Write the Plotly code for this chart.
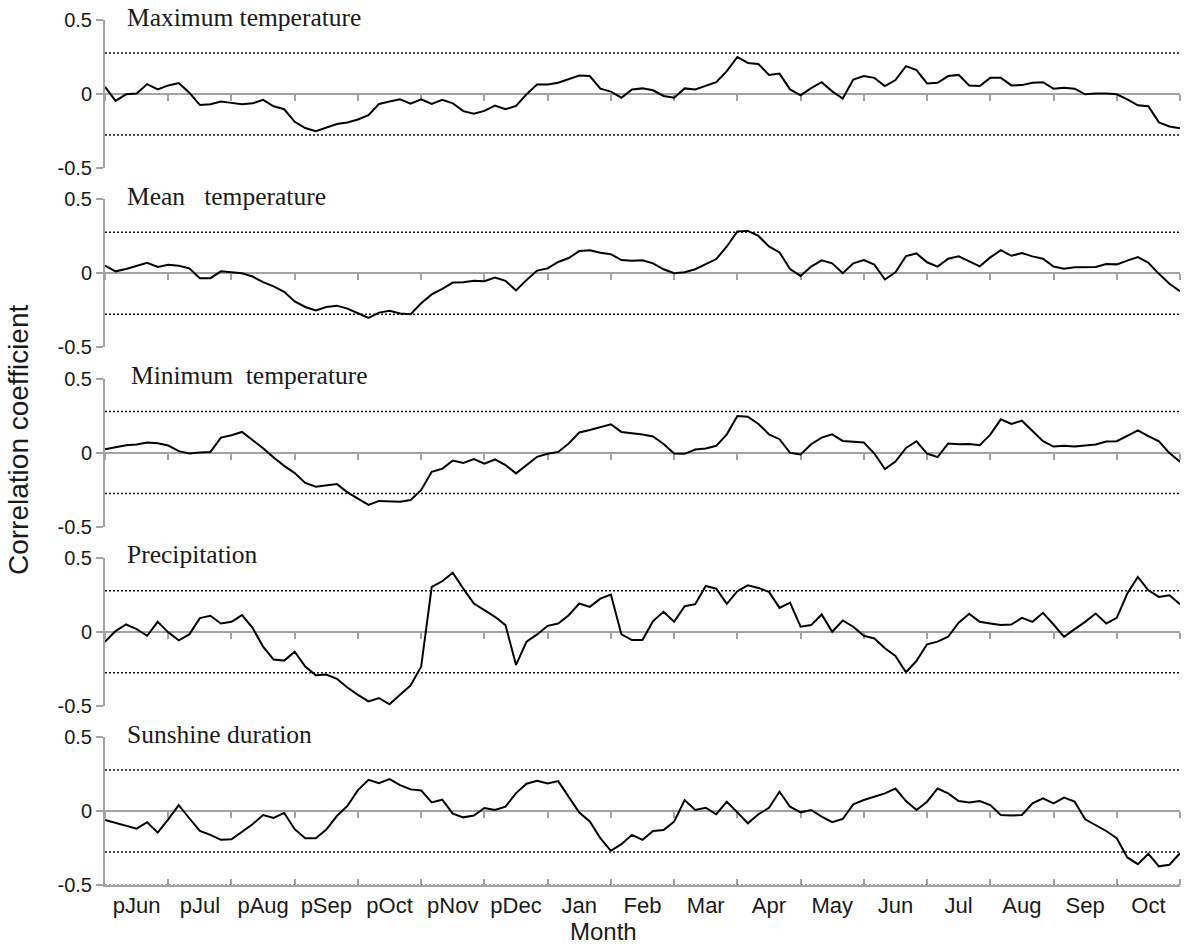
import numpy as np
import plotly.graph_objects as go

# Month labels along the time axis (previous year prefixed with "p")
MONTHS = ["pJun", "pJul", "pAug", "pSep", "pOct", "pNov", "pDec", "Jan", "Feb",
          "Mar", "Apr", "May", "Jun", "Jul", "Aug", "Sep", "Oct"]
SAMPLES_PER_MONTH = 6          # correlation values sampled every 1/6 month
SIG_R = 0.277                  # significance threshold (p < 0.05)

max_temp = [
    0.049, -0.047, -0.002, 0.004, 0.067, 0.031, 0.058, 0.074, 0.009, -0.074,
    -0.069, -0.051, -0.060, -0.069, -0.063, -0.040, -0.083, -0.103, -0.188, -0.230,
    -0.252, -0.225, -0.203, -0.192, -0.172, -0.143, -0.067, -0.051, -0.036, -0.065,
    -0.036, -0.067, -0.040, -0.063, -0.116, -0.134, -0.114, -0.078, -0.103, -0.080,
    -0.002, 0.065, 0.065, 0.076, 0.103, 0.125, 0.121, 0.036, 0.016, -0.025,
    0.031, 0.038, 0.025, -0.013, -0.025, 0.038, 0.031, 0.058, 0.080, 0.154,
    0.250, 0.210, 0.203, 0.129, 0.138, 0.031, -0.009, 0.040, 0.080, 0.018,
    -0.031, 0.098, 0.121, 0.109, 0.054, 0.094, 0.188, 0.161, 0.071, 0.076,
    0.121, 0.129, 0.058, 0.054, 0.109, 0.109, 0.058, 0.060, 0.076, 0.080,
    0.036, 0.042, 0.036, -0.002, 0.004, 0.004, -0.002, -0.036, -0.076, -0.083,
    -0.192, -0.219, -0.232]

mean_temp = [
    0.051, 0.013, 0.029, 0.051, 0.071, 0.042, 0.058, 0.051, 0.033, -0.033,
    -0.033, 0.013, 0.007, 0.000, -0.022, -0.060, -0.089, -0.125, -0.190, -0.228,
    -0.252, -0.228, -0.219, -0.239, -0.270, -0.301, -0.266, -0.254, -0.272, -0.277,
    -0.203, -0.143, -0.105, -0.063, -0.060, -0.051, -0.054, -0.029, -0.051, -0.116,
    -0.045, 0.018, 0.033, 0.076, 0.103, 0.150, 0.156, 0.138, 0.129, 0.089,
    0.085, 0.087, 0.067, 0.027, 0.000, 0.007, 0.027, 0.060, 0.096, 0.181,
    0.283, 0.286, 0.252, 0.181, 0.141, 0.029, -0.018, 0.045, 0.087, 0.067,
    0.000, 0.067, 0.089, 0.058, -0.042, 0.007, 0.116, 0.134, 0.074, 0.045,
    0.098, 0.114, 0.078, 0.047, 0.107, 0.156, 0.118, 0.136, 0.114, 0.098,
    0.045, 0.031, 0.040, 0.040, 0.042, 0.063, 0.060, 0.085, 0.109, 0.071,
    -0.004, -0.071, -0.121]

min_temp = [
    0.022, 0.036, 0.049, 0.054, 0.067, 0.063, 0.047, 0.009, -0.007, 0.000,
    0.004, 0.101, 0.117, 0.139, 0.087, 0.029, -0.034, -0.090, -0.139, -0.206,
    -0.231, -0.224, -0.213, -0.269, -0.314, -0.354, -0.327, -0.327, -0.332, -0.321,
    -0.253, -0.130, -0.110, -0.054, -0.070, -0.045, -0.076, -0.047, -0.085, -0.141,
    -0.085, -0.029, -0.009, 0.004, 0.061, 0.135, 0.152, 0.173, 0.191, 0.139,
    0.132, 0.121, 0.108, 0.058, -0.007, -0.009, 0.020, 0.027, 0.045, 0.123,
    0.247, 0.242, 0.193, 0.123, 0.090, -0.002, -0.013, 0.056, 0.101, 0.123,
    0.078, 0.070, 0.067, -0.007, -0.112, -0.061, 0.031, 0.076, -0.007, -0.031,
    0.061, 0.056, 0.058, 0.049, 0.121, 0.224, 0.193, 0.215, 0.143, 0.076,
    0.040, 0.045, 0.040, 0.045, 0.054, 0.074, 0.076, 0.112, 0.150, 0.110,
    0.076, -0.004, -0.063]

precipitation = [
    -0.067, 0.004, 0.049, 0.018, -0.027, 0.067, -0.004, -0.058, -0.018, 0.092,
    0.108, 0.056, 0.067, 0.112, 0.027, -0.101, -0.188, -0.195, -0.135, -0.235,
    -0.294, -0.289, -0.318, -0.377, -0.426, -0.471, -0.448, -0.490, -0.426, -0.363,
    -0.235, 0.303, 0.341, 0.399, 0.291, 0.191, 0.146, 0.101, 0.045, -0.224,
    -0.067, -0.018, 0.040, 0.056, 0.112, 0.191, 0.168, 0.224, 0.251, -0.018,
    -0.056, -0.056, 0.072, 0.135, 0.067, 0.173, 0.186, 0.309, 0.291, 0.188,
    0.274, 0.314, 0.296, 0.269, 0.161, 0.197, 0.034, 0.045, 0.117, 0.000,
    0.076, 0.034, -0.027, -0.045, -0.112, -0.164, -0.274, -0.197, -0.085, -0.067,
    -0.034, 0.061, 0.121, 0.067, 0.056, 0.045, 0.049, 0.094, 0.067, 0.128,
    0.049, -0.034, 0.018, 0.067, 0.123, 0.056, 0.094, 0.258, 0.370, 0.280,
    0.235, 0.247, 0.186]

sunshine = [
    -0.061, -0.081, -0.099, -0.119, -0.076, -0.146, -0.056, 0.040, -0.049, -0.135,
    -0.161, -0.195, -0.191, -0.139, -0.090, -0.027, -0.047, -0.013, -0.123, -0.184,
    -0.184, -0.126, -0.034, 0.034, 0.141, 0.211, 0.188, 0.215, 0.175, 0.146,
    0.139, 0.058, 0.076, -0.018, -0.043, -0.031, 0.020, 0.007, 0.029, 0.121,
    0.184, 0.204, 0.186, 0.202, 0.099, -0.011, -0.070, -0.184, -0.269, -0.224,
    -0.161, -0.195, -0.135, -0.128, -0.072, 0.074, 0.007, 0.022, -0.022, 0.063,
    -0.009, -0.083, -0.022, 0.022, 0.130, 0.029, -0.009, 0.007, -0.038, -0.076,
    -0.054, 0.045, 0.074, 0.096, 0.119, 0.152, 0.067, 0.007, 0.063, 0.152,
    0.119, 0.067, 0.058, 0.067, 0.040, -0.027, -0.031, -0.027, 0.052, 0.085,
    0.052, 0.090, 0.063, -0.056, -0.094, -0.135, -0.184, -0.314, -0.359, -0.289,
    -0.374, -0.363, -0.285]

PANELS = [
    ("Maximum temperature", max_temp),
    ("Mean   temperature", mean_temp),
    ("Minimum  temperature", min_temp),
    ("Precipitation", precipitation),
    ("Sunshine duration", sunshine),
]

# ---- geometry / style -------------------------------------------------------
W, H = 1190, 944
ML, MR, MT, MB = 105, 10, 20, 59
PW, PH = W - ML - MR, H - MT - MB
PANEL_STEP, PANEL_H = 179.25, 148
GRAY = "#a3a3a3"
SANS = "Liberation Sans, Arial, sans-serif"
SERIF = "Liberation Serif, Times New Roman, serif"
TITLE_X = [125, 125, 129, 125, 125]

n_months = len(MONTHS)
boundaries = list(range(n_months + 1))
centers = [m + 0.5 for m in range(n_months)]

fig = go.Figure()
layout = {}
shapes = []
annotations = []

for i, (title, values) in enumerate(PANELS, start=1):
    t = np.arange(len(values)) / SAMPLES_PER_MONTH
    xname = "x" if i == 1 else f"x{i}"
    yname = "y" if i == 1 else f"y{i}"
    top = 1 - (PANEL_STEP * (i - 1)) / PH
    bottom = 1 - (PANEL_STEP * (i - 1) + PANEL_H) / PH

    fig.add_trace(go.Scatter(
        x=t, y=values, mode="lines", xaxis=xname, yaxis=yname,
        line=dict(color="#000000", width=2), showlegend=False,
        hoverinfo="skip"))

    # month-boundary axis drawn along r = 0
    layout["xaxis" if i == 1 else f"xaxis{i}"] = dict(
        domain=[0, 1], range=[0, n_months], anchor="free",
        position=(top + bottom) / 2,
        showline=True, linecolor=GRAY, linewidth=2,
        ticks="outside", ticklen=6, tickwidth=1.5, tickcolor=GRAY,
        tickvals=boundaries, showticklabels=False,
        showgrid=False, zeroline=False, layer="below traces")

    layout["yaxis" if i == 1 else f"yaxis{i}"] = dict(
        domain=[bottom, top], range=[-0.5, 0.5], anchor=xname,
        tickvals=[-0.5, 0, 0.5], ticktext=["-0.5", "0", "0.5"],
        ticks="outside", ticklen=7, tickwidth=1.5, tickcolor=GRAY,
        showline=True, linecolor=GRAY, linewidth=2,
        showgrid=False, zeroline=False, layer="below traces",
        tickfont=dict(family=SANS, size=20, color="#1a1a1a"))

    # significance thresholds
    for level in (SIG_R, -SIG_R):
        shapes.append(dict(
            type="line", xref=f"{xname} domain", yref=yname,
            x0=0, x1=1, y0=level, y1=level, layer="below",
            line=dict(color="#111111", width=1.5, dash="2px,2px")))

    annotations.append(dict(
        text=title, xref="paper", yref="paper",
        x=(TITLE_X[i - 1] - ML) / PW, y=top, xanchor="left", yanchor="middle",
        yshift=3, showarrow=False,
        font=dict(family=SERIF, size=25.5, color="#1a1a1a")))

# bottom month axis of the last panel
fig.add_trace(go.Scatter(x=[], y=[], xaxis="x6", yaxis="y5",
                         showlegend=False, hoverinfo="skip"))
layout["xaxis6"] = dict(
    overlaying="x5", anchor="y5", side="bottom", range=[0, n_months],
    showline=True, linecolor=GRAY, linewidth=2,
    tickvals=centers, ticktext=MONTHS, ticks="",
    minor=dict(tickvals=boundaries[1:], ticks="inside", ticklen=6,
               tickwidth=1.5, tickcolor=GRAY, showgrid=False),
    showgrid=False, zeroline=False,
    tickfont=dict(family=SANS, size=22, color="#1a1a1a"))
shapes.append(dict(
    type="line", xref="x5 domain", yref="y5", x0=0, x1=1, y0=-0.5, y1=-0.5,
    layer="above", line=dict(color="#555555", width=1, dash="2px,2px")))

annotations.append(dict(
    text="Correlation coefficient", xref="paper", yref="paper",
    x=(18 - ML) / PW, y=1 - (440 - MT) / PH, textangle=-90,
    xanchor="center", yanchor="middle", showarrow=False,
    font=dict(family=SANS, size=28, color="#1a1a1a")))
annotations.append(dict(
    text="Month", xref="paper", yref="paper",
    x=(603 - ML) / PW, y=1 - (931 - MT) / PH,
    xanchor="center", yanchor="middle", showarrow=False,
    font=dict(family=SANS, size=24, color="#1a1a1a")))

fig.update_layout(
    width=W, height=H,
    margin=dict(l=ML, r=MR, t=MT, b=MB, pad=0),
    plot_bgcolor="white", paper_bgcolor="white",
    shapes=shapes, annotations=annotations, showlegend=False,
    **layout)

fig.write_html("out.html")
